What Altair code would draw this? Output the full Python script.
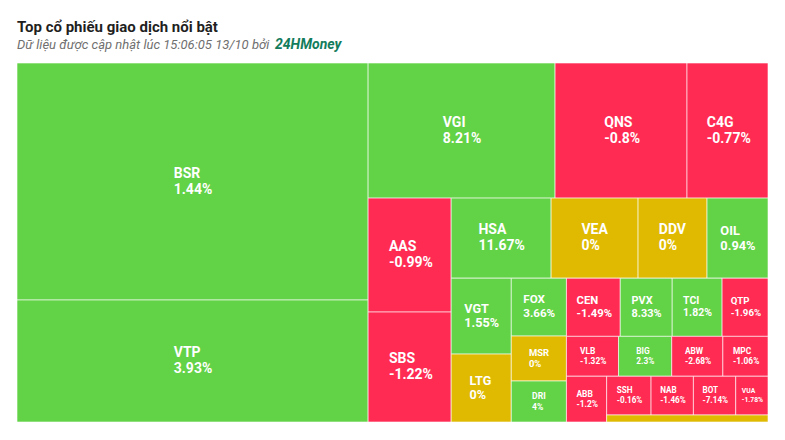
import altair as alt
import pandas as pd

# ---- data -------------------------------------------------------------------
tickers = ["BSR", "VTP", "VGI", "QNS", "C4G", "AAS", "SBS", "HSA", "VEA", "DDV",
           "OIL", "VGT", "LTG", "FOX", "MSR", "DRI", "CEN", "PVX", "TCI", "QTP",
           "VLB", "BIG", "ABW", "MPC", "ABB", "SSH", "NAB", "BOT", "VUA", ""]
values = [831.9, 428.2, 252.5, 178.2, 109.4, 94.6, 91.3, 80.0, 69.6, 55.2,
          48.8, 45.6, 40.8, 31.9, 24.8, 22.6, 31.3, 30.2, 29.0, 26.7,
          20.8, 21.2, 20.4, 18.0, 18.4, 17.2, 16.4, 16.4, 12.5, 11.3]
changes = [1.44, 3.93, 8.21, -0.8, -0.77, -0.99, -1.22, 11.67, 0, 0,
           0.94, 1.55, 0, 3.66, 0, 4, -1.49, 8.33, 1.82, -1.96,
           -1.32, 2.3, -2.68, -1.06, -1.2, -0.16, -1.46, -7.14, -1.78, 0]
# treemap strips (group of tiles laid side by side) and their orientation
strips = [1, 1, 2, 2, 2, 3, 3, 4, 4, 4, 4, 5, 5, 6, 6, 6, 7, 7, 7, 7,
          8, 8, 8, 8, 9, 10, 10, 10, 10, 11]
strip_dirs = ["col", "row", "col", "row", "col", "col", "row", "row", "col", "row", "row"]

TITLE = "Top cổ phiếu giao dịch nổi bật"
SUBTITLE = "Dữ liệu được cập nhật lúc 15:06:05 13/10 bởi"
SOURCE = "24HMoney"

GREEN, YELLOW, RED = "#62d246", "#dfba00", "#ff2b53"

# ---- plot geometry -------------------------------------------------------------
W, H = 769, 424
PX0, PX1 = 9, 760
PY0, PY1 = 55, 414
PW, PH = PX1 - PX0, PY1 - PY0

# ---- strip treemap layout (normalised 0..1 space) --------------------------------
rects = {}
rx0, ry0, rx1, ry1 = 0.0, 0.0, 1.0, 1.0
remaining = sum(values)
for s, d in enumerate(strip_dirs, start=1):
    idx = [i for i, k in enumerate(strips) if k == s]
    ssum = sum(values[i] for i in idx)
    frac = ssum / remaining
    if d == "col":
        cx1 = rx0 + (rx1 - rx0) * frac
        y = ry0
        for i in idx:
            h = (ry1 - ry0) * values[i] / ssum
            rects[i] = (rx0, y, cx1, y + h)
            y += h
        rx0 = cx1
    else:
        cy1 = ry0 + (ry1 - ry0) * frac
        x = rx0
        for i in idx:
            w = (rx1 - rx0) * values[i] / ssum
            rects[i] = (x, ry0, x + w, cy1)
            x += w
        ry0 = cy1
    remaining -= ssum

CW = {"0": .562, "1": .562, "2": .562, "3": .562, "4": .562, "5": .562, "6": .562,
      "7": .562, "8": .562, "9": .562, ".": .267, "%": .73, "-": .28,
      "A": .662, "B": .637, "C": .653, "D": .657, "E": .567, "F": .55, "G": .683,
      "H": .713, "I": .289, "L": .544, "M": .876, "N": .713, "O": .69, "P": .645,
      "Q": .69, "R": .625, "S": .608, "T": .613, "U": .656, "V": .65, "W": .883,
      "X": .635, "Y": .608}


def tw(s, fs):
    return sum(CW.get(c, .6) for c in s) * fs


rows, labels = [], []
for i, t in enumerate(tickers):
    x0, y0, x1, y1 = rects[i]
    c = changes[i]
    cat = "up" if c > 0 else ("down" if c < 0 else "flat")
    rows.append({"ticker": t, "value": values[i], "x0": x0, "x1": x1,
                 "y0": y0, "y1": y1, "cat": cat})
    wpx, hpx = (x1 - x0) * PW, (y1 - y0) * PH
    if hpx < 12 or not t:
        continue
    fs = max(6.0, min(14.0, 0.21 * min(wpx, hpx)))
    lh = fs + 2
    pct = ("%g" % c) + "%"
    bw = max(tw(t, fs), tw(pct, fs))
    lx = (x0 + x1) / 2 - (bw / 2) / PW
    ly = (y0 + y1) / 2 - (lh / 2) / PH
    labels.append({"lx": lx, "ly": ly, "txt": t + "\n" + pct, "fs": fs})

df = pd.DataFrame(rows)
dl = pd.DataFrame(labels)

xs = alt.Scale(domain=[0, 1], range=[PX0, PX1])
ys = alt.Scale(domain=[0, 1], range=[PY0, PY1])

tiles = alt.Chart(df).mark_rect(stroke="#ffffff", strokeWidth=1, strokeOpacity=0.6).encode(
    x=alt.X("x0:Q", scale=xs, axis=None),
    x2="x1:Q",
    y=alt.Y("y0:Q", scale=ys, axis=None),
    y2="y1:Q",
    color=alt.Color("cat:N", scale=alt.Scale(domain=["up", "flat", "down"],
                                             range=[GREEN, YELLOW, RED]), legend=None),
    tooltip=["ticker:N", "value:Q"],
)

texts = alt.Chart(dl).mark_text(
    align="left", baseline="middle", font="Roboto", fontWeight="bold",
    color="white", lineBreak="\n"
).encode(
    x=alt.X("lx:Q", scale=xs, axis=None),
    y=alt.Y("ly:Q", scale=ys, axis=None),
    text="txt:N",
    size=alt.Size("fs:Q", scale=None),
)

title = alt.Chart(pd.DataFrame({"t": [TITLE]})).mark_text(
    align="left", baseline="alphabetic", font="Roboto", fontWeight="bold",
    fontSize=15, color="#1f1f1f"
).encode(x=alt.value(9), y=alt.value(24), text="t:N")

sub = alt.Chart(pd.DataFrame({"t": [SUBTITLE]})).mark_text(
    align="left", baseline="alphabetic", font="Roboto", fontStyle="italic",
    fontSize=13, color="#6f6f6f"
).encode(x=alt.value(9), y=alt.value(41), text="t:N")

src = alt.Chart(pd.DataFrame({"t": [SOURCE]})).mark_text(
    align="left", baseline="alphabetic", font="Roboto", fontStyle="italic",
    fontWeight="bold", fontSize=14, color="#137c5c"
).encode(x=alt.value(267), y=alt.value(41), text="t:N")

chart = alt.layer(tiles, texts, title, sub, src).properties(
    width=W, height=H, autosize=alt.AutoSizeParams(type="none"), padding=0,
    background="white"
).configure_view(stroke=None)

chart.save("out.html", embed_options={"renderer": "svg", "actions": False})
